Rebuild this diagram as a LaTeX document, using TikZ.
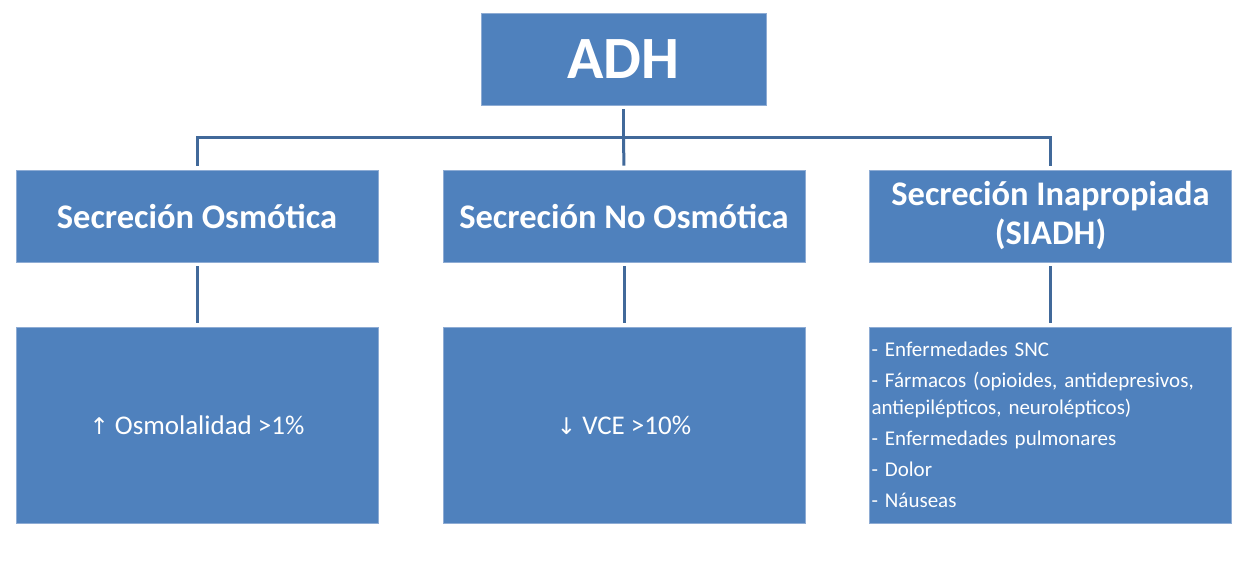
\documentclass[tikz,border=0pt]{standalone}
\usepackage{fontspec}
\setmainfont{Carlito}
\newfontfamily\symf{DejaVu Sans}
\definecolor{boxblue}{HTML}{4F81BD}
\definecolor{boxedge}{HTML}{8EACD4}
\definecolor{linecol}{HTML}{41699A}
\begin{document}
\begin{tikzpicture}[x=1pt,y=-1pt,
  box/.style={rectangle, fill=boxblue, draw=boxedge, line width=0.8pt, text=white, align=center, inner sep=2pt},
  headbox/.style={box, minimum width=362pt, minimum height=92pt, font=\bfseries\fontsize{34.5}{39}\selectfont},
  bodybox/.style={box, minimum width=362pt, minimum height=196pt, font=\fontsize{27}{31}\selectfont},
  conn/.style={draw=linecol, line width=3pt}]
\useasboundingbox (0,0) rectangle (1248,560);
\node[box, minimum width=285pt, minimum height=92pt, font=\bfseries\fontsize{60}{66}\selectfont] (adh) at (623.5,59) {ADH};
\node[headbox] (s1) at (197,216) {Secreción Osmótica};
\node[headbox] (s2) at (624,216) {Secreción No Osmótica};
\node[headbox] (s3) at (1050.5,216) {Secreción Inapropiada\\(SIADH)};
\node[bodybox] (b1) at (197,425) {{\symf\fontsize{23}{31}\selectfont ↑} Osmolalidad >1\%};
\node[bodybox] (b2) at (624,425) {{\symf\fontsize{23}{31}\selectfont ↓} VCE >10\%};
\node[bodybox, text width=358pt, align=left, inner xsep=1pt, inner ysep=3pt, font=\fontsize{21}{27}\selectfont] (b3) at (1050.5,425) {%
- Enfermedades SNC\\[4pt]
- Fármacos (opioides, antidepresivos,\\
antiepilépticos, neurolépticos)\\[4pt]
- Enfermedades pulmonares\\[4pt]
- Dolor\\[4pt]
- Náuseas};
\coordinate (j) at (623.5,137);
\draw[conn, shorten <=4pt] (adh.south) -- (j);
\draw[conn, shorten >=4pt] (j) -- (s2.north);
\draw[conn, shorten >=4pt] (j) -| (s1.north);
\draw[conn, shorten >=4pt] (j) -| (s3.north);
\draw[conn, shorten <=4pt, shorten >=4pt] (s1.south) -- (b1.north);
\draw[conn, shorten <=4pt, shorten >=4pt] (s2.south) -- (b2.north);
\draw[conn, shorten <=4pt, shorten >=4pt] (s3.south) -- (b3.north);
\end{tikzpicture}
\end{document}
